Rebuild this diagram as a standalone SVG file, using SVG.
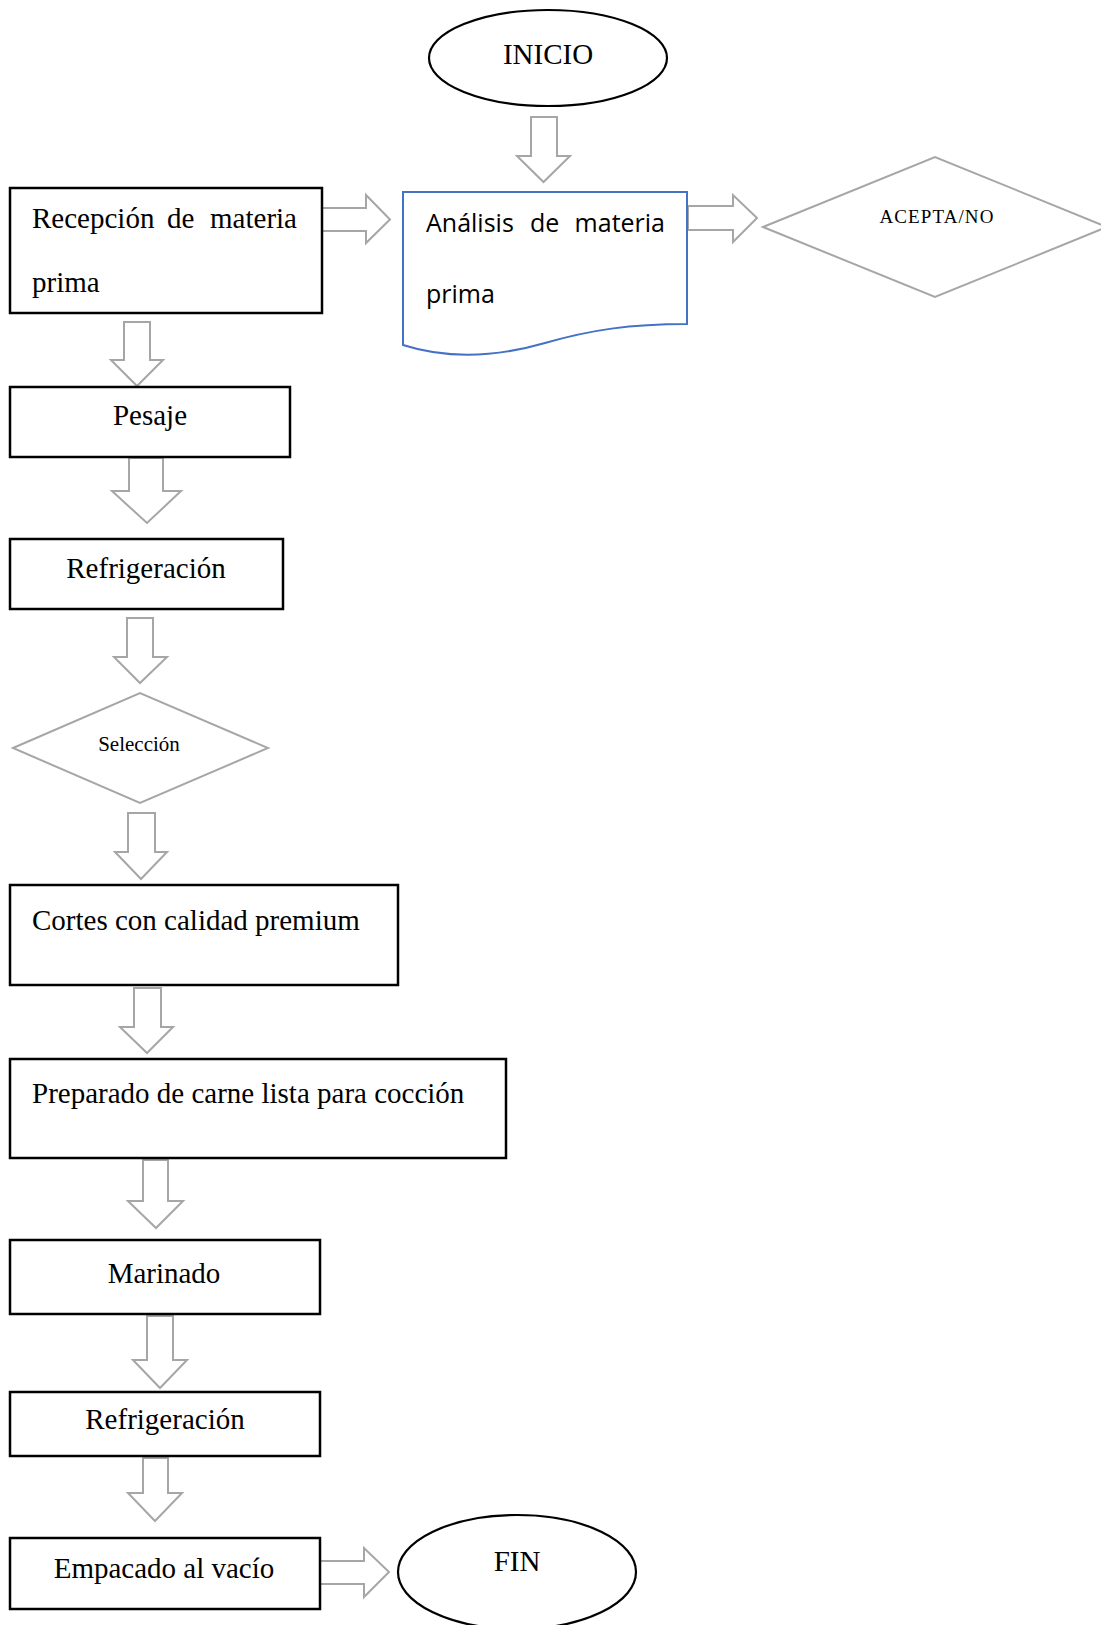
<svg xmlns="http://www.w3.org/2000/svg" width="1101" height="1625" viewBox="0 0 1101 1625">
<style>
.box{fill:#fff;stroke:#000;stroke-width:2.5}
.ell{fill:#fff;stroke:#000;stroke-width:2.2}
.dia{fill:#fff;stroke:#a6a6a6;stroke-width:2}
.doc{fill:#fff;stroke:#4472c4;stroke-width:2}
.arr{fill:#fff;stroke:#a6a6a6;stroke-width:2;stroke-linejoin:miter}
.t{font-family:"Liberation Serif","Times New Roman",serif;font-size:29px;fill:#000}
.tc{text-anchor:middle}
.s{font-family:"Open Sans","Noto Sans",sans-serif;font-size:25px;fill:#000}
</style>
<rect width="1101" height="1625" fill="#fff"/>
<g id="connectors">
<polygon class="arr" points="531,117 557,117 557,156 570,156 543.5,182 517,156 531,156"/>
<polygon class="arr" points="322,208 366,208 366,195 390,219.5 366,243 366,231 322,231"/>
<polygon class="arr" points="688,206 733,206 733,195 757,218 733,242 733,230 688,230"/>
<polygon class="arr" points="124,322 150,322 150,360 163,360 137,386 111,360 124,360"/>
<polygon class="arr" points="129,458 163,458 163,491 181,491 147,523 112,491 129,491"/>
<polygon class="arr" points="127,618 153,618 153,657 167,657 140,683 114,657 127,657"/>
<polygon class="arr" points="128,813 155,813 155,852 167,852 141,879 115,852 128,852"/>
<polygon class="arr" points="134,988 161,988 161,1027 173,1027 147,1053 120,1027 134,1027"/>
<polygon class="arr" points="143,1160 168,1160 168,1201 183,1201 156,1228 128,1201 143,1201"/>
<polygon class="arr" points="147,1316 173,1316 173,1360 187,1360 160,1388 133,1360 147,1360"/>
<polygon class="arr" points="143,1458 168,1458 168,1493 182,1493 155,1521 128,1493 143,1493"/>
<polygon class="arr" points="320,1561 364,1561 364,1548 389,1572 364,1597 364,1584 320,1584"/>
</g>
<g id="inicio">
<ellipse class="ell" cx="548" cy="58" rx="119" ry="48"/>
<text class="t tc" x="548" y="64">INICIO</text>
</g>
<g id="recepcion">
<rect class="box" x="10" y="188" width="312" height="125"/>
<text class="t" x="32" y="228">Recepción</text>
<text class="t" x="167" y="228">de</text>
<text class="t" x="297" y="228" text-anchor="end">materia</text>
<text class="t" x="32" y="292">prima</text>
</g>
<g id="analisis">
<path class="doc" d="M403,192 H687 V324 C630,324 590,330 545,343 C500,356 450,360 403,345 Z"/>
<text class="s" x="426" y="232">Análisis</text>
<text class="s" x="530" y="232">de</text>
<text class="s" x="665" y="232" text-anchor="end">materia</text>
<text class="s" x="426" y="303">prima</text>
</g>
<g id="acepta">
<polygon class="dia" points="763,227 935,157 1107,227 935,297"/>
<text x="937" y="223" text-anchor="middle" style="font-family:'Liberation Serif','Times New Roman',serif;font-size:19px;letter-spacing:1.1px">ACEPTA/NO</text>
</g>
<g id="pesaje">
<rect class="box" x="10" y="387" width="280" height="70"/>
<text class="t tc" x="150" y="425">Pesaje</text>
</g>
<g id="refrigeracion1">
<rect class="box" x="10" y="539" width="273" height="70"/>
<text class="t tc" x="146" y="578">Refrigeración</text>
</g>
<g id="seleccion">
<polygon class="dia" points="13,748 140,693 268,748 140,803"/>
<text x="139" y="751" text-anchor="middle" style="font-family:'Liberation Serif','Times New Roman',serif;font-size:21px">Selección</text>
</g>
<g id="cortes">
<rect class="box" x="10" y="885" width="388" height="100"/>
<text class="t" x="32" y="930">Cortes con calidad premium</text>
</g>
<g id="preparado">
<rect class="box" x="10" y="1059" width="496" height="99"/>
<text class="t" x="32" y="1103">Preparado de carne lista para cocción</text>
</g>
<g id="marinado">
<rect class="box" x="10" y="1240" width="310" height="74"/>
<text class="t tc" x="164" y="1283">Marinado</text>
</g>
<g id="refrigeracion2">
<rect class="box" x="10" y="1392" width="310" height="64"/>
<text class="t tc" x="165" y="1429">Refrigeración</text>
</g>
<g id="empacado">
<rect class="box" x="10" y="1538" width="310" height="71"/>
<text class="t tc" x="164" y="1578">Empacado al vacío</text>
</g>
<g id="fin">
<ellipse class="ell" cx="517" cy="1572" rx="119" ry="57"/>
<text class="t tc" x="517" y="1571">FIN</text>
</g>
</svg>
